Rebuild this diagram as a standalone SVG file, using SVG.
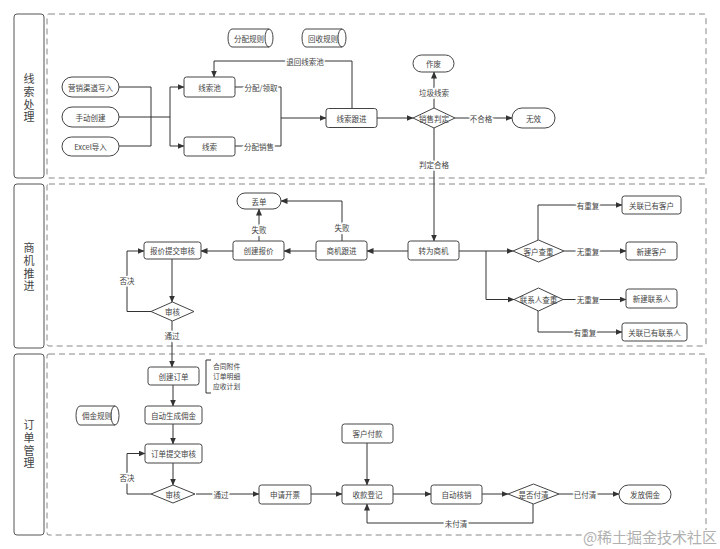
<svg xmlns="http://www.w3.org/2000/svg" width="720" height="549" viewBox="0 0 720 549">
<defs>
<marker id="arr" markerWidth="7" markerHeight="6" refX="6.5" refY="3" orient="auto" markerUnits="userSpaceOnUse">
<path d="M0,0 L7,3 L0,6 Z" fill="#333"/>
</marker>
<style>
.t{font-family:"Noto Sans CJK SC","Noto Sans",sans-serif;font-size:7.5px;fill:#444;text-anchor:middle;dominant-baseline:central}
.lbl{font-family:"Noto Sans CJK SC","Noto Sans",sans-serif;font-size:7.5px;fill:#444;text-anchor:middle;dominant-baseline:central;stroke:#fff;stroke-width:3;paint-order:stroke}
.lane{font-family:"Noto Sans CJK SC","Noto Sans",sans-serif;font-size:11px;fill:#444;text-anchor:middle;writing-mode:vertical-rl;letter-spacing:1.7px}
.note{font-family:"Noto Sans CJK SC","Noto Sans",sans-serif;font-size:6.8px;fill:#444;text-anchor:start;dominant-baseline:central}
.n{fill:#fff;stroke:#444;stroke-width:1}
.e{fill:none;stroke:#333;stroke-width:1}
.ea{fill:none;stroke:#333;stroke-width:1;marker-end:url(#arr)}
.lb{fill:#fff;stroke:#555;stroke-width:1}
.dash{fill:none;stroke:#888;stroke-width:1;stroke-dasharray:6 4}
</style>
</defs>
<rect width="720" height="549" fill="#fff"/>

<g id="lanes">
<rect class="lb" x="14" y="14" width="30" height="164" rx="3"/>
<rect class="dash" x="47" y="14" width="659" height="164" rx="2"/>
<text class="lane" x="29" y="99">线索处理</text>
<rect class="lb" x="14" y="184" width="30" height="164" rx="3"/>
<rect class="dash" x="47" y="184" width="659" height="162" rx="2"/>
<text class="lane" x="29" y="268">商机推进</text>
<rect class="lb" x="14" y="354" width="30" height="181" rx="3"/>
<rect class="dash" x="47" y="354" width="659" height="181" rx="2"/>
<text class="lane" x="29" y="445">订单管理</text>
</g>

<g id="connectors">
<path class="e" d="M119 87 H151 V117 M119 146 H151 V117 M119 117 H170 M170 87 V146"/>
<path class="ea" d="M170 87 H184"/>
<path class="ea" d="M170 146 H184"/>
<path class="e" d="M235 87 H281 V118 M235 146 H281 V118"/>
<path class="ea" d="M281 118 H326"/>
<path class="ea" d="M352 108 V61 H214 V77"/>
<path class="ea" d="M377 118 H413"/>
<path class="ea" d="M434 108 V72"/>
<path class="ea" d="M455 118 H512"/>
<path class="ea" d="M434 128 V241"/>
<path class="ea" d="M408 251 H367"/>
<path class="ea" d="M316 251 H284"/>
<path class="ea" d="M233 251 H201"/>
<path class="ea" d="M259 241 V209"/>
<path class="ea" d="M342 241 V201 H281"/>
<path class="ea" d="M172 259 V302"/>
<path class="ea" d="M151 311.5 H127 V251 H144"/>
<path class="ea" d="M172 321 V367"/>
<path class="ea" d="M459 251 H513"/>
<path class="ea" d="M486 251 V299.5 H514"/>
<path class="ea" d="M538 240 V205 H622"/>
<path class="ea" d="M564 251 H626"/>
<path class="ea" d="M563 299.5 H626"/>
<path class="ea" d="M538 311 V332 H622"/>
<path class="ea" d="M173 385 V406"/>
<path class="ea" d="M173 424 V444"/>
<path class="ea" d="M173 463 V485"/>
<path class="ea" d="M151 494 H127 V453.5 H145"/>
<path class="ea" d="M196 494 H259"/>
<path class="ea" d="M311 494 H342"/>
<path class="ea" d="M367 443 V485"/>
<path class="ea" d="M393 494 H431"/>
<path class="ea" d="M482 494 H508"/>
<path class="ea" d="M559 494 H619"/>
<path class="ea" d="M533 504 V523 H367 V504"/>
<text class="lbl" x="261" y="87">分配/领取</text>
<text class="lbl" x="259" y="146">分配销售</text>
<text class="lbl" x="305" y="61">退回线索池</text>
<text class="lbl" x="434" y="92">垃圾线索</text>
<text class="lbl" x="481" y="118">不合格</text>
<text class="lbl" x="434" y="164">判定合格</text>
<text class="lbl" x="259" y="229">失败</text>
<text class="lbl" x="342" y="227">失败</text>
<text class="lbl" x="127" y="280">否决</text>
<text class="lbl" x="172" y="335">通过</text>
<text class="lbl" x="588" y="205">有重复</text>
<text class="lbl" x="588" y="251">无重复</text>
<text class="lbl" x="588" y="299.5">无重复</text>
<text class="lbl" x="585" y="332">有重复</text>
<text class="lbl" x="127" y="477">否决</text>
<text class="lbl" x="221" y="494">通过</text>
<text class="lbl" x="585" y="494">已付清</text>
<text class="lbl" x="456" y="523">未付清</text>
</g>

<g id="n-yingxiao"><rect class="n" x="62" y="77" width="57" height="20" rx="10"/><text class="t" x="90.5" y="87">营销渠道写入</text></g>
<g id="n-shoudong"><rect class="n" x="62" y="107" width="57" height="20" rx="10"/><text class="t" x="90.5" y="117">手动创建</text></g>
<g id="n-excel"><rect class="n" x="62" y="137" width="57" height="19" rx="9.5"/><text class="t" x="90.5" y="146.5">Excel导入</text></g>
<g id="n-xiansuochi"><rect class="n" x="184" y="77" width="51" height="20" rx="2.5"/><text class="t" x="209.5" y="87">线索池</text></g>
<g id="n-xiansuo"><rect class="n" x="184" y="137" width="51" height="19" rx="2.5"/><text class="t" x="209.5" y="146.5">线索</text></g>
<g id="n-fenpei"><path class="n" d="M232 29 H269 A4 9 0 0 1 269 47 H232 A4 9 0 0 1 232 29 Z M269 29 A4 9 0 0 0 269 47"/><text class="t" x="249" y="38">分配规则</text></g>
<g id="n-huishou"><path class="n" d="M306 29 H342 A4 9 0 0 1 342 47 H306 A4 9 0 0 1 306 29 Z M342 29 A4 9 0 0 0 342 47"/><text class="t" x="323" y="38">回收规则</text></g>
<g id="n-genjin"><rect class="n" x="326" y="108.5" width="51" height="19" rx="2.5"/><text class="t" x="351.5" y="118">线索跟进</text></g>
<g id="n-panding"><path class="n" d="M413 118 L434 108 L455 118 L434 128 Z"/><text class="t" x="434" y="118">销售判定</text></g>
<g id="n-zuofei"><rect class="n" x="413" y="55" width="41" height="17" rx="8.5"/><text class="t" x="433.5" y="63.5">作废</text></g>
<g id="n-wuxiao"><rect class="n" x="512" y="108" width="43" height="20" rx="10"/><text class="t" x="533.5" y="118">无效</text></g>

<g id="n-zhuanwei"><rect class="n" x="408" y="241" width="51" height="19" rx="2.5"/><text class="t" x="433.5" y="250.5">转为商机</text></g>
<g id="n-shangji"><rect class="n" x="316" y="241" width="51" height="19" rx="2.5"/><text class="t" x="341.5" y="250.5">商机跟进</text></g>
<g id="n-baojia"><rect class="n" x="233" y="241" width="51" height="19" rx="2.5"/><text class="t" x="258.5" y="250.5">创建报价</text></g>
<g id="n-diudan"><rect class="n" x="237" y="193" width="44" height="16" rx="8"/><text class="t" x="259" y="201">丢单</text></g>
<g id="n-baojiashenhe"><rect class="n" x="144" y="242" width="57" height="17" rx="2.5"/><text class="t" x="172.5" y="250.5">报价提交审核</text></g>
<g id="n-shenhe1"><path class="n" d="M151 311.5 L172.5 302 L194 311.5 L172.5 321 Z"/><text class="t" x="172.5" y="311.5">审核</text></g>
<g id="n-kehuchachong"><path class="n" d="M513 251 L538.5 240 L564 251 L538.5 262 Z"/><text class="t" x="538.5" y="251">客户查重</text></g>
<g id="n-lianxirenchachong"><path class="n" d="M514 299.5 L538.5 288 L563 299.5 L538.5 311 Z"/><text class="t" x="538.5" y="299.5">联系人查重</text></g>
<g id="n-guanliankehu"><rect class="n" x="622" y="196" width="59" height="18" rx="2.5"/><text class="t" x="651.5" y="205">关联已有客户</text></g>
<g id="n-xinjiankehu"><rect class="n" x="626" y="242" width="51" height="18" rx="2.5"/><text class="t" x="651.5" y="251">新建客户</text></g>
<g id="n-xinjianlianxiren"><rect class="n" x="626" y="289" width="51" height="19" rx="2.5"/><text class="t" x="651.5" y="298.5">新建联系人</text></g>
<g id="n-guanlianlianxiren"><rect class="n" x="622" y="323" width="65" height="18" rx="2.5"/><text class="t" x="654.5" y="332">关联已有联系人</text></g>

<g id="n-chuangjiandingdan"><rect class="n" x="148" y="367" width="51" height="18" rx="2.5"/><text class="t" x="173.5" y="376">创建订单</text></g>
<g id="n-beizhu"><path class="e" d="M211 360 H206 V393 H211" stroke="#555"/><text class="note" x="213" y="366">合同附件</text><text class="note" x="213" y="376">订单明细</text><text class="note" x="213" y="386">应收计划</text></g>
<g id="n-yongjin"><rect class="n" x="145" y="406" width="57" height="18" rx="2.5"/><text class="t" x="173.5" y="415">自动生成佣金</text></g>
<g id="n-yongjinguize"><path class="n" d="M80 406 H115 A4 9.5 0 0 1 115 425 H80 A4 9.5 0 0 1 80 406 Z M115 406 A4 9.5 0 0 0 115 425"/><text class="t" x="97" y="415.5">佣金规则</text></g>
<g id="n-dingdanshenhe"><rect class="n" x="145" y="444" width="57" height="19" rx="2.5"/><text class="t" x="173.5" y="453.5">订单提交审核</text></g>
<g id="n-shenhe2"><path class="n" d="M151 494 L173 485 L195 494 L173 503 Z"/><text class="t" x="173" y="494">审核</text></g>
<g id="n-kaipiao"><rect class="n" x="259" y="485" width="52" height="19" rx="2.5"/><text class="t" x="285" y="494.5">申请开票</text></g>
<g id="n-shoukuan"><rect class="n" x="342" y="485" width="51" height="19" rx="2.5"/><text class="t" x="367.5" y="494.5">收款登记</text></g>
<g id="n-fukuan"><rect class="n" x="342" y="424" width="51" height="19" rx="2.5"/><text class="t" x="367.5" y="433.5">客户付款</text></g>
<g id="n-hexiao"><rect class="n" x="431" y="485" width="51" height="19" rx="2.5"/><text class="t" x="456.5" y="494.5">自动核销</text></g>
<g id="n-fuqing"><path class="n" d="M508 494 L533.5 484 L559 494 L533.5 504 Z"/><text class="t" x="533.5" y="494">是否付清</text></g>
<g id="n-fafang"><rect class="n" x="619" y="485" width="52" height="19" rx="9.5"/><text class="t" x="645" y="494.5">发放佣金</text></g>

<text x="650" y="543" style="font-family:'Noto Sans CJK SC',sans-serif;font-size:15px;fill:#b0b0b0;text-anchor:middle;stroke:#fff;stroke-width:2;paint-order:stroke">@稀土掘金技术社区</text>
</svg>
